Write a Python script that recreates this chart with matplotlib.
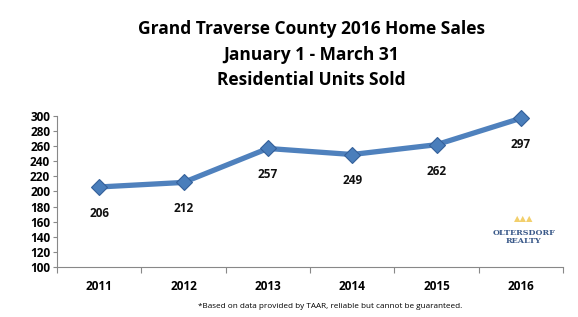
import matplotlib
matplotlib.use("Agg")
import matplotlib.pyplot as plt
import numpy as np

years = ["2011", "2012", "2013", "2014", "2015", "2016"]
units_sold = [206, 212, 257, 249, 262, 297]
y_ticks = [100, 120, 140, 160, 180, 200, 220, 240, 260, 280, 300]

plt.rcParams['font.family'] = ['Open Sans', 'DejaVu Sans']

fig = plt.figure(figsize=(5.78, 3.17), dpi=100)
ax = fig.add_axes([57/578, 1 - 267/317, 506/578, (267 - 116)/317])

x = np.arange(len(years))
ax.plot(x, units_sold, color='#4F81BD', linewidth=3.8, zorder=2, solid_capstyle='round', clip_on=False)
ax.plot(x, units_sold, linestyle='none', marker='D', markersize=8.5, clip_on=False,
        markerfacecolor='#4A7EBB', markeredgecolor='#35609A', markeredgewidth=0.8, zorder=3)

# data labels under each point
for xi, val in zip(x, units_sold):
    ax.annotate(str(val), (xi, val), xytext=(0, -19), textcoords='offset points',
                ha='center', va='center', fontsize=8.5, fontweight='bold', color='#111111')

ax.set_xlim(-0.5, len(years) - 0.5)
ax.set_ylim(100, 300)
ax.set_yticks(y_ticks)
ax.set_yticklabels([str(v) for v in y_ticks], fontsize=8.5, fontweight='bold')
ax.set_xticks(np.arange(-0.5, len(years), 1))
ax.set_xticklabels([])
ax.set_xticks(x, minor=True)
ax.set_xticklabels(years, minor=True, fontsize=8.5, fontweight='bold')
ax.tick_params(axis='x', which='major', length=4, color='#888888', direction='out')
ax.tick_params(axis='x', which='minor', length=0, pad=9)
ax.tick_params(axis='y', length=3, color='#888888', pad=2)

for side in ['top', 'right']:
    ax.spines[side].set_visible(False)
ax.spines['left'].set_color('#888888')
ax.spines['bottom'].set_color('#888888')

# title
fig.text(311/578, 1 - 29/317, "Grand Traverse County 2016 Home Sales", ha='center', va='center',
         fontsize=12.5, fontweight='bold')
fig.text(311/578, 1 - 55/317, "January 1 - March 31", ha='center', va='center',
         fontsize=12.5, fontweight='bold')
fig.text(311/578, 1 - 80/317, "Residential Units Sold", ha='center', va='center',
         fontsize=12.5, fontweight='bold')

# footnote
fig.text(330/578, 1 - 306/317, "*Based on data provided by TAAR, reliable but cannot be guaranteed.",
         ha='center', va='center', fontsize=5.9)

# logo
fig.text(524/578, 1 - 219/317, "\u25b2\u25b2\u25b2", ha='center', va='center',
         fontsize=6, color='#F2CF6B', family='DejaVu Sans')
fig.text(524/578, 1 - 233/317, "OLTERSDORF", ha='center', va='center',
         fontsize=5.8, color='#3B5A8A', family='DejaVu Serif', fontweight='bold')
fig.text(524/578, 1 - 241/317, "REALTY", ha='center', va='center',
         fontsize=5.8, color='#3B5A8A', family='DejaVu Serif', fontweight='bold')

fig.savefig("out.png", dpi=100)
